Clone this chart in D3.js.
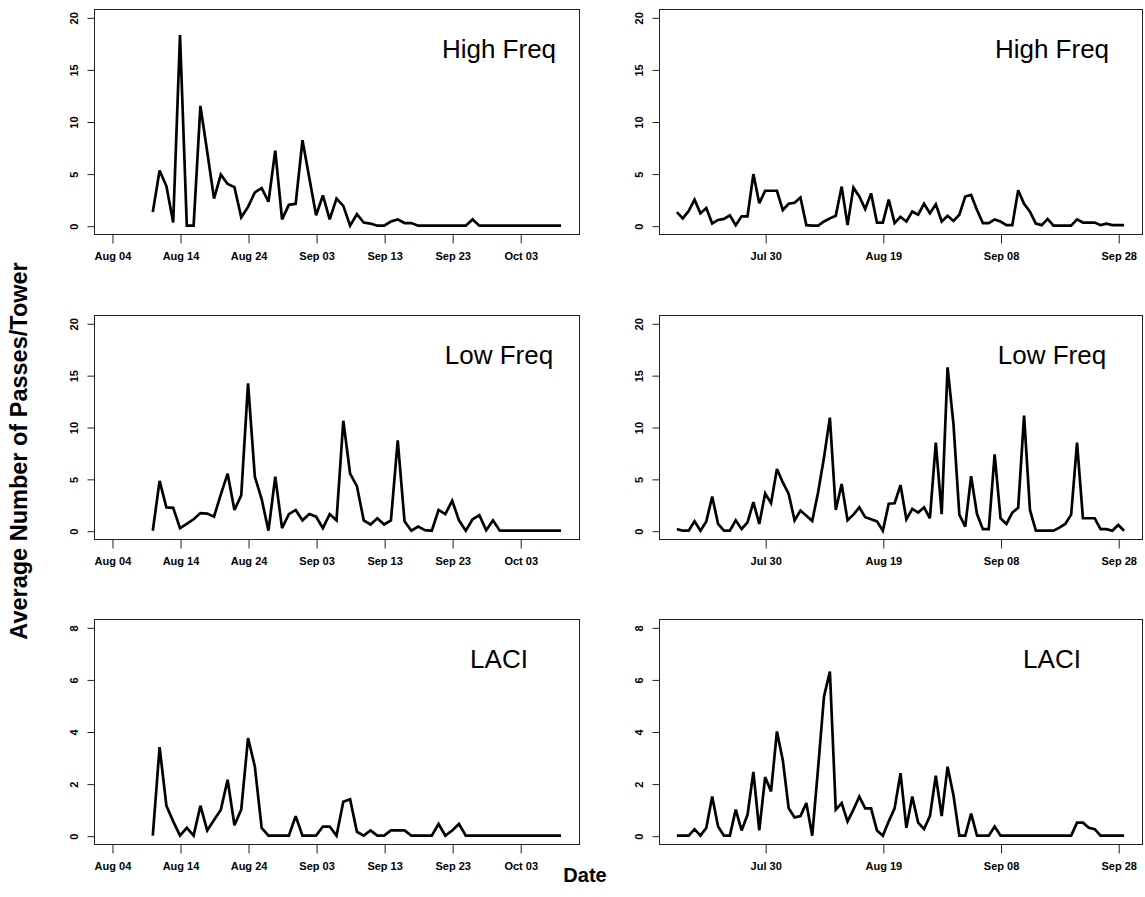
<!DOCTYPE html>
<html>
<head>
<meta charset="utf-8">
<script src="https://cdn.jsdelivr.net/npm/d3@7"></script>
<style>
  html, body { margin: 0; padding: 0; background: #fff; }
  svg { display: block; font-family: "Liberation Sans", Arial, sans-serif; }
</style>
</head>
<body>
<svg id="chart" width="1145" height="897"></svg>
<script>
// ---------------- data ----------------
// Left column: daily series starting 2007-08-10 (61 days)
const leftStart = "2007-08-10";
const leftXlim = ["2007-08-04", "2007-10-09"];
const leftTickLabels = ["Aug 04", "Aug 14", "Aug 24", "Sep 03", "Sep 13", "Sep 23", "Oct 03"];
const leftTickDates = ["2007-08-04", "2007-08-14", "2007-08-24", "2007-09-03", "2007-09-13", "2007-09-23", "2007-10-03"];

const leftHigh = [1.3,5.3,3.8,0.3,18.3,0,0,11.5,7.1,2.6,
  4.9,4.0,3.7,0.8,1.8,3.2,3.6,2.3,7.2,0.6,
  2.0,2.1,8.2,4.6,1.0,2.9,0.6,2.6,1.9,0,
  1.1,0.3,0.2,0,0,0.4,0.6,0.25,0.25,0,
  0,0,0,0,0,0,0,0.6,0,0,
  0,0,0,0,0,0,0,0,0,0,0];
const leftLow = [0,4.8,2.25,2.2,0.25,0.65,1.1,1.7,1.65,1.35,
  3.5,5.5,2.0,3.4,14.2,5.2,3.05,0,5.2,0.25,
  1.6,2.0,1.0,1.6,1.35,0.25,1.6,1.0,10.6,5.5,
  4.3,1.0,0.6,1.2,0.6,1.0,8.7,0.9,0,0.4,
  0.05,0,2.0,1.6,2.9,1.0,0,1.1,1.5,0.05,
  1.0,0,0,0,0,0,0,0,0,0,0];
const leftLACI = [0,3.4,1.15,0.55,0,0.3,0,1.15,0.2,0.6,
  1.0,2.15,0.4,1.0,3.75,2.65,0.3,0,0,0,
  0,0.75,0,0,0,0.35,0.35,0,1.3,1.4,
  0.15,0,0.2,0,0,0.2,0.2,0.2,0,0,
  0,0,0.45,0,0.2,0.45,0,0,0,0,
  0,0,0,0,0,0,0,0,0,0,0];

// Right column: daily series starting 2007-07-15 (77 days)
const rightStart = "2007-07-15";
const rightXlim = ["2007-07-15", "2007-09-29"];
const rightTickLabels = ["Jul 30", "Aug 19", "Sep 08", "Sep 28"];
const rightTickDates = ["2007-07-30", "2007-08-19", "2007-09-08", "2007-09-28"];

const rightHigh = [1.3,0.7,1.4,2.5,1.2,1.7,0.2,0.55,0.65,1.0,
  0.05,0.9,0.9,4.95,2.15,3.35,3.35,3.35,1.5,2.1,
  2.2,2.7,0.05,0,0,0.4,0.7,0.95,3.75,0.05,
  3.65,2.8,1.6,3.1,0.3,0.3,2.5,0.25,0.85,0.4,
  1.35,1.05,2.1,1.2,2.05,0.4,0.95,0.45,1.05,2.8,
  2.95,1.5,0.25,0.25,0.6,0.4,0.05,0.05,3.4,2.1,
  1.35,0.2,0.05,0.65,0,0,0,0,0.6,0.3,
  0.3,0.3,0.05,0.2,0.05,0.05,0.05];
const rightLow = [0.15,0,0,0.9,0,0.9,3.3,0.65,0,0,
  1.0,0.15,0.8,2.75,0.65,3.6,2.65,5.95,4.65,3.55,
  1.0,1.95,1.45,0.95,3.7,7.05,10.9,2.0,4.5,1.0,
  1.55,2.25,1.3,1.1,0.9,0,2.6,2.65,4.4,1.1,
  2.1,1.75,2.25,1.2,8.5,1.6,15.75,10.3,1.55,0.4,
  5.25,1.6,0.15,0.15,7.35,1.2,0.65,1.75,2.2,11.1,
  2.0,0,0,0,0,0.3,0.65,1.55,8.5,1.2,
  1.2,1.2,0.15,0.15,0,0.55,0];
const rightLACI = [0,0,0,0.25,0,0.3,1.5,0.35,0,0,
  1.0,0.2,0.8,2.45,0.2,2.25,1.7,4.0,2.9,1.05,
  0.7,0.75,1.25,0,2.6,5.35,6.3,1.0,1.25,0.55,
  1.0,1.5,1.05,1.05,0.2,0,0.55,1.05,2.4,0.3,
  1.5,0.5,0.25,0.75,2.3,0.75,2.65,1.55,0,0,
  0.85,0,0,0,0.35,0,0,0,0,0,
  0,0,0,0,0,0,0,0,0.5,0.5,
  0.3,0.25,0,0,0,0,0];

const panelTitles = ["High Freq", "Low Freq", "LACI"];
const yMaxes = [20, 20, 8];
const yTicksBig = [0, 5, 10, 15, 20];
const yTicksSmall = [0, 2, 4, 6, 8];

// ---------------- layout ----------------
const svg = d3.select("#chart");
const parse = d3.utcParse("%Y-%m-%d");
const DAY = 864e5;

const cols = [
  { left: 94, right: 579, start: leftStart, xlim: leftXlim, tickDates: leftTickDates, tickLabels: leftTickLabels,
    series: [leftHigh, leftLow, leftLACI], titleX: 499 },
  { left: 659, right: 1142, start: rightStart, xlim: rightXlim, tickDates: rightTickDates, tickLabels: rightTickLabels,
    series: [rightHigh, rightLow, rightLACI], titleX: 1052 }
];
const rows = [ { top: 9, bottom: 234 }, { top: 315, bottom: 539 }, { top: 619, bottom: 844 } ];

cols.forEach(col => {
  const x0 = parse(col.xlim[0]).getTime(), x1 = parse(col.xlim[1]).getTime();
  const pad = (x1 - x0) * 0.04;
  const x = d3.scaleUtc().domain([new Date(x0 - pad), new Date(x1 + pad)]).range([col.left, col.right]);
  const startT = parse(col.start).getTime();

  rows.forEach((row, ri) => {
    const ymax = yMaxes[ri];
    const ypad = ymax * 0.04;
    const y = d3.scaleLinear().domain([-ypad, ymax + ypad]).range([row.bottom, row.top]);
    const g = svg.append("g");

    // box
    g.append("rect")
      .attr("x", col.left + 0.5).attr("y", row.top + 0.5)
      .attr("width", col.right - col.left).attr("height", row.bottom - row.top)
      .attr("fill", "none").attr("stroke", "#222").attr("stroke-width", 1);

    // x axis
    const xAxis = d3.axisBottom(x)
      .tickValues(col.tickDates.map(parse))
      .tickFormat((d, i) => col.tickLabels[i])
      .tickSizeInner(9).tickSizeOuter(0).tickPadding(9);
    const gx = g.append("g").attr("transform", `translate(0.5,${row.bottom + 0.5})`).call(xAxis);
    gx.select(".domain").remove();
    gx.selectAll("line").attr("stroke", "#222");
    gx.selectAll("text").attr("font-size", 11).attr("font-weight", "bold").attr("fill", "#000")
      .attr("font-family", "Liberation Sans, Arial, sans-serif");

    // y axis
    const yAxis = d3.axisLeft(y)
      .tickValues(ri < 2 ? yTicksBig : yTicksSmall)
      .tickSizeInner(7).tickSizeOuter(0).tickPadding(0);
    const gy = g.append("g").attr("transform", `translate(${col.left + 0.5},0.5)`).call(yAxis);
    gy.select(".domain").remove();
    gy.selectAll("line").attr("stroke", "#222");
    gy.selectAll("text")
      .attr("font-size", 11).attr("font-weight", "bold").attr("fill", "#000")
      .attr("font-family", "Liberation Sans, Arial, sans-serif")
      .attr("x", null).attr("dy", null)
      .attr("text-anchor", "middle")
      .attr("transform", "translate(-17,0) rotate(-90)");

    // line
    const vals = col.series[ri];
    const line = d3.line()
      .x((d, i) => x(new Date(startT + i * DAY)))
      .y(d => y(d));
    g.append("path").datum(vals)
      .attr("d", line)
      .attr("fill", "none").attr("stroke", "#000")
      .attr("stroke-width", 2.7).attr("stroke-linejoin", "miter").attr("stroke-miterlimit", 3);

    // title
    g.append("text")
      .attr("x", col.titleX).attr("y", row.top + 49)
      .attr("text-anchor", "middle")
      .attr("font-size", 26).attr("fill", "#000")
      .text(panelTitles[ri]);
  });
});

// axis titles
svg.append("text")
  .attr("transform", "translate(27,451) rotate(-90)")
  .attr("text-anchor", "middle")
  .attr("font-size", 23.5).attr("font-weight", "bold")
  .text("Average Number of Passes/Tower");

svg.append("text")
  .attr("x", 585).attr("y", 882)
  .attr("text-anchor", "middle")
  .attr("font-size", 20).attr("font-weight", "bold")
  .text("Date");
</script>
</body>
</html>
